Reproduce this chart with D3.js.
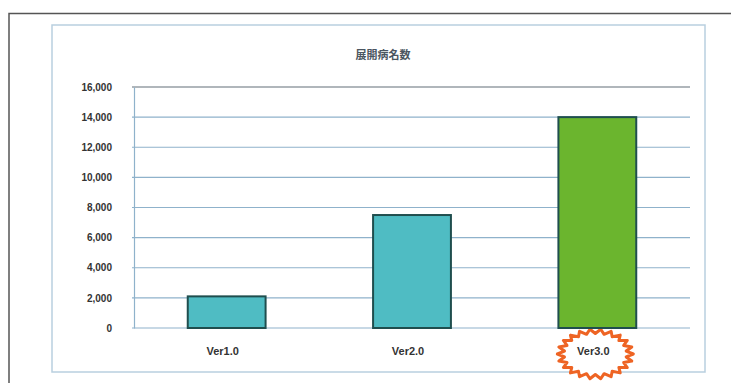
<!DOCTYPE html>
<html>
<head>
<meta charset="utf-8">
<script src="https://cdn.jsdelivr.net/npm/d3@7"></script>
<style>
body{margin:0;background:#fff;}
svg{display:block;}
</style>
</head>
<body>
<script>
var categories = ['Ver1.0','Ver2.0','Ver3.0'];
var counts = [2100,7500,14000];
var barColors = ['#4fbcc3','#4fbcc3','#6bb52e'];
var yTicks = [0,2000,4000,6000,8000,10000,12000,14000,16000];
var title = '展開病名数';

var width = 731, height = 383;
var plot = {left:134, right:690, top:87, bottom:328};

var svg = d3.select('body').append('svg')
	.attr('width',width)
	.attr('height',height);

// outer frame
svg.append('path')
	.attr('d','M9,'+height+'V13.5H'+width)
	.attr('fill','none')
	.attr('stroke','#555')
	.attr('stroke-width',1.5);

// chart area box
svg.append('rect')
	.attr('x',52).attr('y',25)
	.attr('width',705-52).attr('height',372-25)
	.attr('fill','#fff')
	.attr('stroke','#b9cfdf')
	.attr('stroke-width',1.5);

svg.append('text')
	.attr('x',383).attr('y',59)
	.attr('text-anchor','middle')
	.style('font-family','"Noto Sans CJK JP"')
	.style('font-weight','bold')
	.style('font-size','11px')
	.attr('fill','#4a5560')
	.text(title);

var x = d3.scaleBand()
	.domain(categories)
	.range([plot.left,plot.right])
	.paddingInner(0.58)
	.paddingOuter(0.29);
var y = d3.scaleLinear()
	.domain([0,16000])
	.range([plot.bottom,plot.top]);

// gridlines
svg.append('g')
	.selectAll('line')
	.data(yTicks)
	.enter()
	.append('line')
	.attr('x1',plot.left-2)
	.attr('x2',plot.right)
	.attr('y1',d=>y(d))
	.attr('y2',d=>y(d))
	.attr('stroke',d=>d==16000?'#b0b6bb':'#8fb2cb')
	.attr('stroke-width',d=>d==16000?2:1.2);

// y axis
var yAxis = svg.append('g')
	.attr('transform','translate('+plot.left+',0)')
	.call(d3.axisLeft(y).tickValues(yTicks).tickSize(0).tickPadding(22).tickFormat(d3.format(',')));
yAxis.select('.domain').attr('stroke','#8fb2cb').attr('stroke-width',1.2);
yAxis.selectAll('text')
	.style('font-family','"Liberation Sans", Arial, sans-serif')
	.style('font-weight','bold')
	.style('font-size','10px')
	.attr('fill','#333');

// starburst behind Ver3.0 label
var spikes = 22, cx = x('Ver3.0')+x.bandwidth()/2 - 2, cy = 354;
var pts = d3.range(spikes*2).map(function(i){
	var a = i*Math.PI/spikes;
	var r = i%2==0 ? 1 : 0.82;
	return [cx+Math.cos(a)*38*r, cy+Math.sin(a)*25*r];
});
svg.append('path')
	.attr('d',d3.line()(pts)+'Z')
	.attr('fill','#fff')
	.attr('stroke','#ee6424')
	.attr('stroke-width',3)
	.attr('stroke-linejoin','round');

// bars
svg.append('g')
	.selectAll('rect')
	.data(counts)
	.enter()
	.append('rect')
	.attr('x',(d,i)=>x(categories[i]))
	.attr('y',d=>y(d))
	.attr('width',x.bandwidth())
	.attr('height',d=>y(0)-y(d))
	.attr('fill',(d,i)=>barColors[i])
	.attr('stroke','#1f4e4e')
	.attr('stroke-width',2);

// x labels
svg.append('g')
	.selectAll('text')
	.data(categories)
	.enter()
	.append('text')
	.attr('x',d=>x(d)+x.bandwidth()/2-4)
	.attr('y',355)
	.attr('text-anchor','middle')
	.style('font-family','"Liberation Sans", Arial, sans-serif')
	.style('font-weight','bold')
	.style('font-size','11px')
	.attr('fill','#333')
	.text(d=>d);
</script>
</body>
</html>
